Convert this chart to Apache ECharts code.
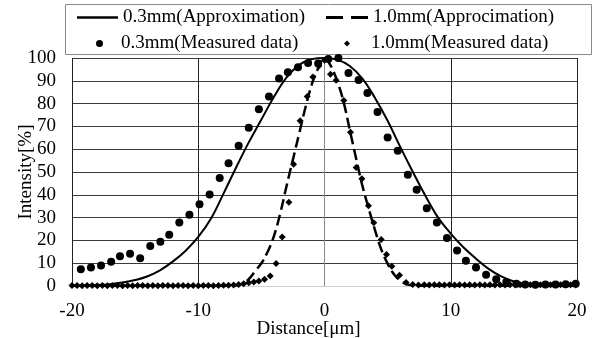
<!DOCTYPE html>
<html>
<head>
<meta charset="utf-8">
<script src="https://cdn.jsdelivr.net/npm/echarts@6/dist/echarts.min.js"></script>
<style>
html,body{margin:0;padding:0;background:#fff;}
#chart{width:593px;height:338px;}
</style>
</head>
<body>
<div id="chart"></div>
<script>
// ---- data ----
var seriesNames = ['0.3mm(Approximation)', '1.0mm(Approcimation)', '0.3mm(Measured data)', '1.0mm(Measured data)'];
var xTicks = [-20, -10, 0, 10, 20];
var yTicks = [0, 10, 20, 30, 40, 50, 60, 70, 80, 90, 100];

// 0.3mm approximation curve
var approx03X = [-20,-19,-18,-17,-16,-15,-14,-13,-12,-11,-10,-9,-8,-7,-6,-5,-4,-3,-2,-1,0,1,2,3,4,5,6,7,8,9,10,11,12,13,14,15,16,17,18,19,20];
var approx03Y = [0.1,0.2,0.4,0.8,1.5,2.6,4.3,7.0,10.8,15.5,21.5,29.5,40.5,52,63,73,83,91.5,97,99.5,100,99.3,96.5,91,82.5,72.5,61,50,39.5,30,23,17,12,7.5,4.2,2.0,0.8,0.3,0.1,0,0];

// 1.0mm approximation curve
var approx10X = [-20,-10,-7.5,-7,-6.5,-6,-5.5,-5,-4.5,-4,-3.5,-3,-2.5,-2,-1.5,-1,-0.5,0,0.5,1,1.5,2,2.5,3,3.5,4,4.5,5,5.5,6,6.5,7,7.5,10,20];
var approx10Y = [0,0,0,0.3,1.0,3.0,6.5,10,15,22,32,44,55.5,67,78.5,88.5,95.5,100,96.5,90,81,68.5,56,44,34,24.5,16,9.8,5.2,2.4,0.8,0.2,0,0,0];

// 0.3mm measured
var meas03X = [-19.3,-18.5,-17.7,-16.9,-16.2,-15.4,-14.6,-13.8,-13.0,-12.3,-11.5,-10.7,-9.9,-9.1,-8.3,-7.6,-6.8,-6.0,-5.2,-4.4,-3.6,-2.9,-2.1,-1.3,-0.5,0.3,1.1,1.9,2.7,3.4,4.2,5.0,5.8,6.6,7.3,8.1,8.9,9.7,10.5,11.2,12.0,12.8,13.6,14.4,15.2,15.9,16.7,17.5,18.3,19.1,19.9];
var meas03Y = [7.4,8.1,9.0,10.6,13.1,14.1,12.2,17.5,19.4,22.5,27.8,31.2,35.9,40.1,47.4,53.8,61.5,69.4,77.5,83.1,91.0,93.8,95.9,97.8,97.6,99.6,100,93.4,90.4,84.6,76.3,65.1,59.3,48.8,42.2,34.1,27.9,21.0,15.6,11.1,8.1,4.9,3.0,1.8,1.0,0.7,0.5,0.7,0.7,0.8,1.0];

// 1.0mm measured
var meas10X = [-20.0,-19.6,-19.2,-18.8,-18.4,-18.0,-17.6,-17.2,-16.8,-16.4,-16.0,-15.6,-15.2,-14.8,-14.4,-14.0,-13.6,-13.2,-12.8,-12.4,-12.0,-11.6,-11.2,-10.8,-10.4,-10.0,-9.6,-9.2,-8.8,-8.4,-8.0,-7.6,-7.2,
  -6.8,-6.4,-6.0,-5.6,-5.2,-4.75,-4.3,-3.83,-3.35,-2.82,-2.45,-1.93,-1.37,-0.92,-0.45,0.0,0.47,0.92,1.53,2.06,2.51,2.96,3.48,3.9,4.49,4.91,5.33,5.94,6.46,6.99,7.44,
  7.9,8.3,8.7,9.1,9.5,9.9,10.3,10.7,11.1,11.5,11.9,12.3,12.7,13.1,13.5,13.9,14.3,14.7,15.1,15.5,15.9,16.3,16.7,17.1,17.5,17.9,18.3,18.7,19.1,19.5,19.9];
var meas10Y = [0.2,0.2,0.1,0.2,0.2,0.1,0.2,0.1,0.2,0.2,0.1,0.2,0.1,0.2,0.2,0.1,0.2,0.1,0.2,0.2,0.1,0.2,0.2,0.1,0.2,0.1,0.2,0.2,0.1,0.2,0.3,0.3,0.4,
  0.7,1.0,1.4,1.8,2.2,3.0,4.4,9.9,21.5,36.7,53.4,72.5,83.1,91.7,96.5,99,92.9,90.2,81.4,67.4,52.0,47.0,35.2,27.7,20.4,13.8,8.7,4.7,1.5,0.7,0.4,
  0.5,0.4,0.6,0.5,0.4,0.5,0.4,0.5,0.4,0.5,0.4,0.5,0.4,0.5,0.4,0.5,0.4,0.5,0.4,0.5,0.4,0.5,0.4,0.5,0.4,0.5,0.4,0.5,0.4,0.5,0.4];

function zip(xs, ys){ return xs.map(function(x,i){ return [x, ys[i]]; }); }

var FONT = '"Liberation Serif", "Times New Roman", serif';
var chart = echarts.init(document.getElementById('chart'), null, {renderer:'canvas'});

function legendAt(name, icon, left, top, w, h, tp){
  return {
    data: [{name: name, icon: icon}], left: left, top: top, itemWidth: w, itemHeight: h, itemGap: 0,
    padding: 0, selectedMode: false,
    itemStyle: {color: '#000', borderWidth: 0},
    textStyle: {fontFamily: FONT, fontSize: 19, color: '#000', padding: [0,0,0,tp]}
  };
}

var option = {
  animation: false,
  backgroundColor: '#fff',
  grid: {left: 72, right: 16, top: 58, bottom: 52, containLabel: false, outerBoundsMode: 'none'},
  graphic: [{
    type: 'rect', shape: {x: 65.5, y: 4.5, width: 526, height: 50},
    style: {fill: 'none', stroke: '#8a8a8a', lineWidth: 1}, z: 0
  }],
  legend: [
    legendAt(seriesNames[0], 'rect', 77, 8, 41, 2.5, 0),
    legendAt(seriesNames[1], 'path://M0,0H17V3H0ZM25,0H42V3H25Z', 326, 8, 42, 3, 0),
    legendAt(seriesNames[2], 'circle', 96, 34, 7, 7, 13),
    legendAt(seriesNames[3], 'diamond', 344, 34, 6, 6, 16)
  ],
  xAxis: {
    type: 'value', min: -20, max: 20, interval: 10,
    name: 'Distance[μm]', nameLocation: 'middle', nameGap: 34, nameMoveOverlap: false,
    nameTextStyle: {fontFamily: FONT, fontSize: 19, color: '#000', padding: [0, 32, 0, 0]},
    axisLine: {show: true, lineStyle: {color: '#d0d0d0', width: 1}},
    axisTick: {show: false},
    axisLabel: {fontFamily: FONT, fontSize: 19, color: '#000', margin: 16,
      formatter: function(v){ return xTicks.indexOf(v) >= 0 ? String(v) : ''; }},
    splitLine: {show: true, lineStyle: {color: '#222', width: 1}}
  },
  yAxis: {
    type: 'value', min: 0, max: 100, interval: 10,
    name: 'Intensity[%]', nameLocation: 'middle', nameGap: 36, nameRotate: 90, nameMoveOverlap: false,
    nameTextStyle: {fontFamily: FONT, fontSize: 19, color: '#000'},
    axisLine: {show: true, lineStyle: {color: '#888', width: 1}},
    axisTick: {show: false},
    axisLabel: {fontFamily: FONT, fontSize: 19, color: '#000', margin: 16,
      formatter: function(v){ return yTicks.indexOf(v) >= 0 ? String(v) : ''; }},
    splitLine: {show: true, lineStyle: {color: '#3a3a3a', width: 1}}
  },
  series: [
    {name: seriesNames[0], type: 'line', data: zip(approx03X, approx03Y), smooth: 0.4,
     symbol: 'none', lineStyle: {color: '#000', width: 2}, itemStyle: {color: '#000'}, z: 3},
    {name: seriesNames[1], type: 'line', data: zip(approx10X, approx10Y), smooth: 0.4,
     symbol: 'none', lineStyle: {color: '#000', width: 2.5, type: [11, 5]}, itemStyle: {color: '#000'}, z: 3},
    {name: seriesNames[2], type: 'scatter', data: zip(meas03X, meas03Y), symbol: 'circle', symbolSize: 8,
     itemStyle: {color: '#000', opacity: 1}, clip: false, z: 4},
    {name: seriesNames[3], type: 'scatter', data: zip(meas10X, meas10Y), symbol: 'diamond', symbolSize: 7,
     itemStyle: {color: '#000', opacity: 1}, clip: false, z: 4}
  ]
};
chart.setOption(option);
</script>
</body>
</html>
